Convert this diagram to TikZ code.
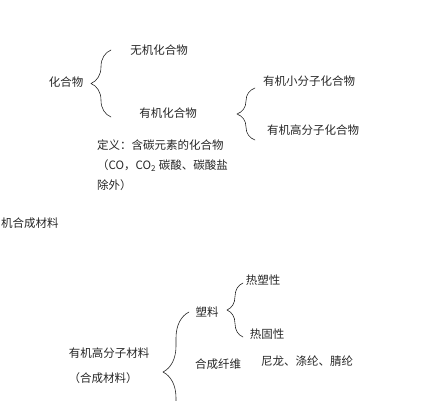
\documentclass[tikz,border=0pt]{standalone}
\usepackage{fontspec}
\setmainfont{Noto Sans CJK SC}
\usepackage{xcolor}
\usetikzlibrary{decorations.pathreplacing}
\definecolor{ink}{gray}{0.15}
\tikzset{
  every picture/.style={line join=round, line cap=round},
  lbl/.style={inner sep=0pt, text=ink, font=\fontsize{11.5}{20}\selectfont},
  curly/.style={draw=ink, line width=0.6pt, decorate, decoration={brace, amplitude=#1}},
}

\begin{document}
\begin{tikzpicture}[x=1pt,y=-1pt]
\useasboundingbox (0,0) rectangle (435,400);
\clip (0,0) rectangle (435,400);
% compounds
\node[lbl] (compound) at (66,82) {化合物};
\node[lbl] (inorganic) at (159,50) {无机化合物};
\node[lbl] (organic) at (168,113) {有机化合物};
\node[lbl] (smallmol) at (309,81) {有机小分子化合物};
\node[lbl] (bigmol) at (313,130) {有机高分子化合物};
\node[lbl,anchor=west,align=left] (define) at (97,165)
  {定义：含碳元素的化合物\\（CO，CO\textsubscript{2} 碳酸、碳酸盐\\除外）};
\coordinate (b1top) at (111,50);
\coordinate (b1bot) at (111,117);
\coordinate (b2top) at (255,88);
\coordinate (b2bot) at (255,140);
\draw[curly=20pt] (b1bot) -- (b1top);
\draw[curly=18pt] (b2bot) -- (b2top);
% materials
\node[lbl,anchor=west] (synth) at (1,223) {机合成材料};
\node[lbl] (polymat) at (109,353) {有机高分子材料};
\node[lbl] (polymat2) at (103,378) {（合成材料）};
\node[lbl] (plastic) at (207,312) {塑料};
\node[lbl] (thermoplastic) at (263,280) {热塑性};
\node[lbl] (thermoset) at (267,334) {热固性};
\node[lbl] (fibre) at (218,364) {合成纤维};
\node[lbl] (fibrenames) at (307,361) {尼龙、涤纶、腈纶};
\coordinate (b3top) at (243,283);
\coordinate (b3bot) at (243,337);
\coordinate (b4top) at (189,312);
\coordinate (b4bot) at (189,432);
\draw[curly=16pt] (b3bot) -- (b3top);
\draw[curly=26pt] (b4bot) -- (b4top);
\end{tikzpicture}
\end{document}
